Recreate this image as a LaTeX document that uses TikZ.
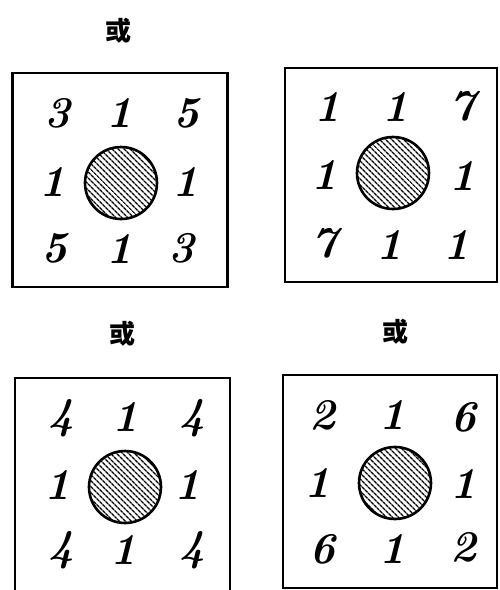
\documentclass[tikz,border=0pt]{standalone}
\usepackage{fontspec}
\newfontfamily\cjk{Noto Sans CJK SC}
\usetikzlibrary{patterns.meta}
\begin{document}
\begin{tikzpicture}[x=1pt, y=-1pt, thick,
    tile/.style={draw, line width=2.4pt, inner sep=0pt},
    hole/.style={draw, circle, line width=2.6pt, pattern={Lines[angle=-45, distance=4pt, line width=1.5pt]}, minimum size=72pt, inner sep=0pt},
    digit/.style={font=\fontsize{44}{44}\selectfont\bfseries\itshape, inner sep=0pt},
    orlabel/.style={font=\cjk\bfseries\fontsize{26}{26}\selectfont, inner sep=0pt}]
  \useasboundingbox (0,0) rectangle (499,590);
  \clip (0,0) rectangle (499,590);

  % labels
  \node (or1) [orlabel] at (118,31) {或};
  \node (or2) [orlabel] at (122,334) {或};
  \node (or3) [orlabel] at (395,332) {或};

  % top left
  \node (A) [tile, minimum width=215pt, minimum height=214pt] at (120,180) {};
  \node (Ac) [hole] at (121,183) {};
  \foreach \d/\px/\py [count=\i] in {3/58/113, 1/120/113, 5/187/113,
      1/53/182, 1/186/182, 5/55/248, 1/120/249, 3/182/248}
    \node (a\i) [digit] at (\px,\py) {\d};

  % top right
  \node (B) [tile, minimum width=212pt, minimum height=214pt] at (391,175) {};
  \node (Bc) [hole] at (393,173) {};
  \foreach \d/\px/\py [count=\i] in {1/328/107, 1/395/107, 7/462/106,
      1/325/175, 1/462/176, 7/325/243, 1/390/245, 1/456/245}
    \node (b\i) [digit] at (\px,\py) {\d};

  % bottom left, cut at lower edge
  \node (C) [tile, minimum width=215pt, minimum height=230pt] at (122.5,493) {};
  \node (Cc) [hole] at (125,487) {};
  \foreach \d/\px/\py [count=\i] in {4/62/418, 1/126/417, 4/193/418,
      1/58/485, 1/188/485, 4/62/550, 1/124/550, 4/193/550}
    \node (c\i) [digit] at (\px,\py) {\d};

  % bottom right
  \node (D) [tile, minimum width=214pt, minimum height=213pt] at (390,481.5) {};
  \node (Dc) [hole] at (395,483) {};
  \foreach \d/\px/\py [count=\i] in {2/322/415, 1/393/415, 6/463/417,
      1/318/483, 1/463/484, 6/323/549, 1/393/549, 2/463/547}
    \node (d\i) [digit] at (\px,\py) {\d};
\end{tikzpicture}
\end{document}
